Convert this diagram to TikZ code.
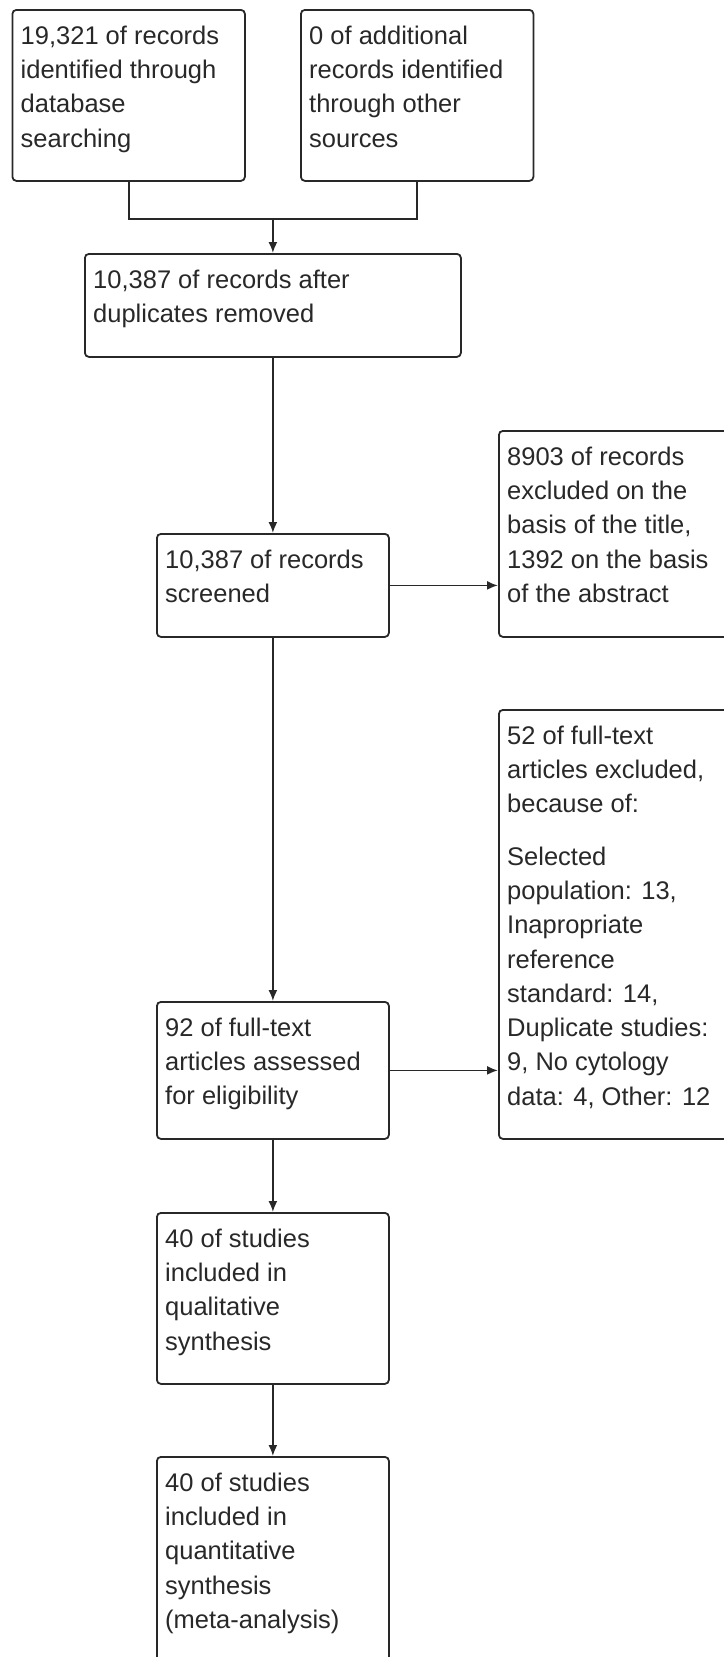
\documentclass[tikz,border=0pt]{standalone}
\usepackage{fontspec}
\setmainfont{Liberation Sans}
\usetikzlibrary{arrows.meta,calc}
\definecolor{ink}{RGB}{40,40,40}
\begin{document}
\begin{tikzpicture}[x=1pt,y=-1pt,
  boxstyle/.style={draw=ink,line width=1.8pt,rounded corners=4pt,inner sep=0pt,anchor=north west},
  txt/.style={anchor=north west,inner sep=0pt,align=left,text=ink,
    font=\fontsize{25.5}{34.3}\selectfont},
  conn/.style={draw=ink,line width=1.8pt},
  arr/.style={conn,-{Latex[length=11pt,width=9pt]}}]
\useasboundingbox (0,0) rectangle (723,1657);
\newcommand{\fs}{\rule{0pt}{26pt}}
% boxes
\node[boxstyle,minimum width=232.5pt,minimum height=171pt] (b1) at (11.5,9) {};
\node[boxstyle,minimum width=232.5pt,minimum height=171pt] (b2) at (300,9) {};
\node[boxstyle,minimum width=376pt,minimum height=103pt] (b3) at (84,253) {};
\node[boxstyle,minimum width=232pt,minimum height=103pt] (b4) at (156,533) {};
\node[boxstyle,minimum width=250pt,minimum height=206pt] (b5) at (498,430) {};
\node[boxstyle,minimum width=232pt,minimum height=137pt] (b6) at (156,1001) {};
\node[boxstyle,minimum width=250pt,minimum height=429pt] (b7) at (498,709) {};
\node[boxstyle,minimum width=232pt,minimum height=171pt] (b8) at (156,1212) {};
\node[boxstyle,minimum width=232pt,minimum height=240pt] (b9) at (156,1456) {};
% texts
\node[txt] (t1) at ($(b1.north west)+(9,9)$) {\fs19,321 of records\\identified through\\database\\searching};
\node[txt] (t2) at ($(b2.north west)+(9,9)$) {\fs0 of additional\\records identified\\through other\\sources};
\node[txt] (t3) at ($(b3.north west)+(9,9)$) {\fs10,387 of records after\\duplicates removed};
\node[txt] (t4) at ($(b4.north west)+(9,9)$) {\fs10,387 of records\\screened};
\node[txt] (t5) at ($(b5.north west)+(9,9)$) {\fs8903 of records\\excluded on the\\basis of the title,\\1392 on the basis\\of the abstract};
\node[txt] (t6) at ($(b6.north west)+(9,9)$) {\fs92 of full-text\\articles assessed\\for eligibility};
\node[txt] (t7) at ($(b7.north west)+(9,9)$) {\fs52 of full-text\\articles excluded,\\because of:\\[18pt]Selected\\population: 13,\\Inapropriate\\reference\\standard: 14,\\Duplicate studies:\\9, No cytology\\data: 4, Other: 12};
\node[txt] (t8) at ($(b8.north west)+(9,9)$) {\fs40 of studies\\included in\\qualitative\\synthesis};
\node[txt] (t9) at ($(b9.north west)+(9,9)$) {\fs40 of studies\\included in\\quantitative\\synthesis\\(meta-analysis)};
% connectors
\coordinate (j) at ($(b1.south)!0.5!(b2.south)+(0,37)$);
\draw[conn] (b1.south) |- (b2.south |- j) -- (b2.south);
\draw[arr] (b3.north |- j) -- (b3.north);
\draw[arr] (b3.south) -- (b4.north);
\draw[arr] (b4.east) -- (b4.east -| b5.west);
\draw[arr] (b4.south) -- (b6.north);
\draw[arr] (b6.east) -- (b6.east -| b7.west);
\draw[arr] (b6.south) -- (b8.north);
\draw[arr] (b8.south) -- (b9.north);
\end{tikzpicture}
\end{document}
